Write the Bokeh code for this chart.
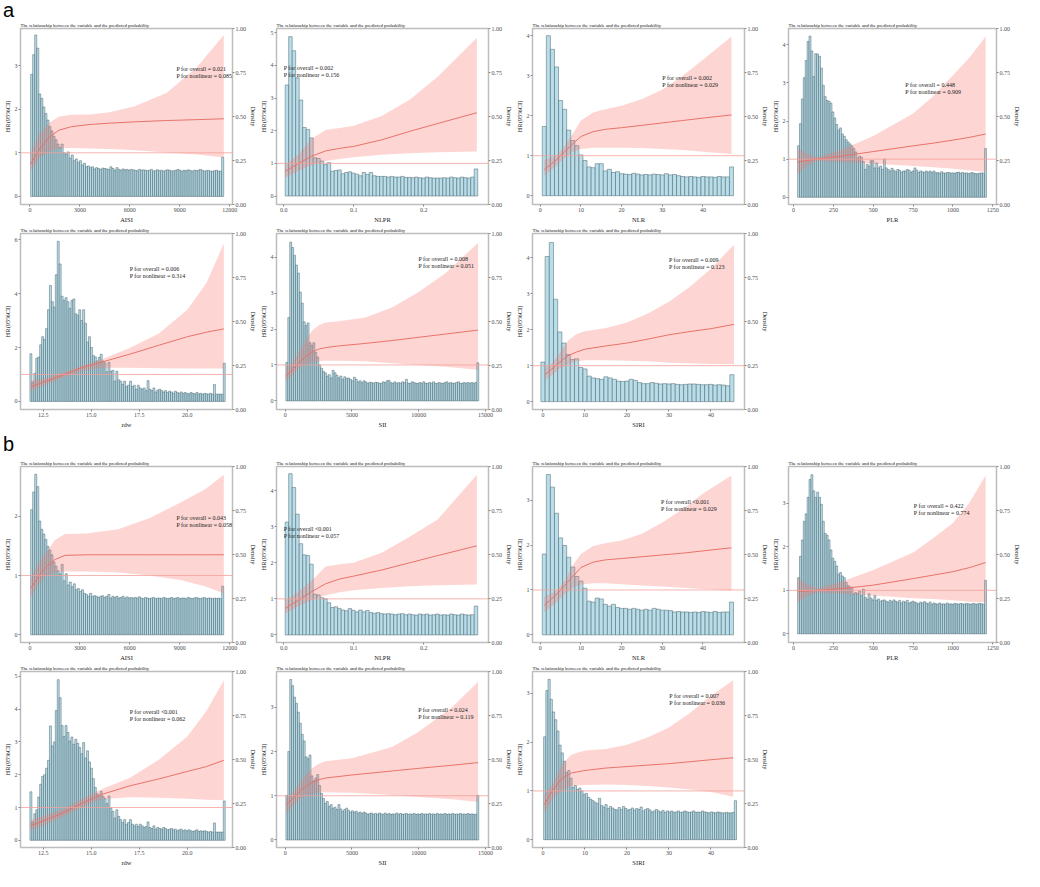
from bokeh.core.properties import value
from bokeh.embed import file_html
from bokeh.layouts import column, row
from bokeh.models import (Div, FixedTicker, LinearAxis, NumeralTickFormatter,
                          Range1d, Span)
from bokeh.plotting import figure
from bokeh.resources import INLINE

TITLE = "The relationship between the variable and the predicted probability"
SERIF = "Liberation Serif"

# bin extents of each variable (first bin left edge, last bin right edge)
aisi_bins = (40, 11640)
nlpr_bins = (0.0022, 0.2772)
nlr_bins = (0.5, 47.5)
plr_bins = (25, 1210)
rdw_bins = (11.81, 21.97)
sii_bins = (50, 14500)
siri_a_bins = (-0.5, 45.5)
siri_b_bins = (0.15, 46.1)

# ---------------- panel set a: histogram heights (read on HR axis) ----------------
aisi_a_bars = [2.8, 3.25, 3.7, 3.4, 2.35, 2.25, 2.05, 1.9, 1.75, 1.6,
               1.5, 1.38, 1.3, 1.2, 1.12, 1.2, 1.0, 0.97, 1.02, 0.88,
               0.95, 0.82, 0.86, 0.78, 0.82, 0.72, 0.76, 0.68, 0.7, 0.66,
               0.68, 0.63, 0.66, 0.64, 0.62, 0.65, 0.64, 0.63, 0.62, 0.68,
               0.64, 0.6, 0.66, 0.62, 0.6, 0.63, 0.61, 0.62, 0.6, 0.62,
               0.61, 0.6, 0.59, 0.62, 0.6, 0.61, 0.6, 0.59, 0.6, 0.62,
               0.58, 0.6, 0.61, 0.59, 0.6, 0.58, 0.6, 0.61, 0.6, 0.58,
               0.59, 0.6, 0.62, 0.6, 0.58, 0.6, 0.59, 0.61, 0.6, 0.58,
               0.6, 0.59, 0.6, 0.62, 0.6, 0.58, 0.59, 0.6, 0.58, 0.58,
               0.59, 0.6, 0.58, 0.58, 0.9]
nlpr_a_bars = [3.4, 4.88, 4.45, 3.62, 2.94, 2.1, 2.04, 1.78, 1.17, 1.15,
               1.07, 0.96, 1.02, 0.76, 0.78, 0.8, 0.68, 0.72, 0.74, 0.7,
               0.67, 0.62, 0.72, 0.66, 0.72, 0.62, 0.6, 0.6, 0.6, 0.58,
               0.6, 0.58, 0.58, 0.6, 0.57, 0.57, 0.56, 0.58, 0.56, 0.55,
               0.58, 0.56, 0.55, 0.55, 0.55, 0.56, 0.55, 0.58, 0.56, 0.55,
               0.58, 0.56, 0.55, 0.58, 0.83]
nlr_a_bars = [1.73, 4.0, 3.66, 3.22, 2.38, 2.16, 1.64, 1.38, 1.25, 1.02,
              0.88, 0.72, 0.7, 0.8, 0.8, 0.62, 0.66, 0.58, 0.6, 0.55,
              0.54, 0.53, 0.56, 0.54, 0.52, 0.53, 0.52, 0.54, 0.53, 0.52,
              0.55, 0.52, 0.53, 0.5, 0.48, 0.47, 0.48, 0.47, 0.46, 0.48,
              0.47, 0.47, 0.46, 0.48, 0.47, 0.47, 0.72]
plr_a_bars = [1.35, 1.93, 2.58, 3.14, 3.59, 4.09, 4.23, 3.84, 3.17, 3.77,
              3.76, 3.7, 3.39, 2.94, 2.64, 2.54, 2.52, 2.47, 2.24, 2.08,
              1.91, 1.76, 1.82, 1.66, 1.6, 1.51, 1.45, 1.4, 1.35, 1.28,
              1.19, 1.03, 1.08, 1.05, 0.94, 0.73, 0.86, 0.82, 0.96, 0.96,
              0.77, 0.9, 0.77, 0.82, 0.73, 1.0, 0.77, 0.73, 0.69, 0.76,
              0.71, 0.67, 0.73, 0.71, 0.66, 0.69, 0.69, 0.73, 0.71, 0.66,
              0.69, 0.77, 0.71, 0.65, 0.69, 0.67, 0.65, 0.69, 0.66, 0.69,
              0.65, 0.69, 0.64, 0.65, 0.63, 0.67, 0.64, 0.63, 0.65, 0.65,
              0.63, 0.64, 0.63, 0.65, 0.66, 0.63, 0.65, 0.63, 0.64, 0.62,
              0.63, 0.65, 0.63, 0.62, 0.62, 0.63, 0.64, 0.63, 1.28]
rdw_a_bars = [1.77, 0.71, 1.04, 1.6, 1.65, 2.1, 2.4, 2.3, 2.7, 3.4,
              4.3, 3.7, 3.5, 4.7, 5.94, 5.1, 3.9, 3.75, 3.85, 3.7,
              3.45, 3.75, 3.8, 3.25, 3.2, 3.4, 3.0, 3.4, 2.9, 2.2,
              2.4, 2.0, 1.7, 1.65, 1.5, 1.63, 1.75, 1.5, 1.43, 1.1,
              1.45, 1.12, 1.15, 0.75, 1.12, 0.8, 0.75, 0.63, 0.75, 0.55,
              0.6, 0.75, 0.55, 0.6, 0.45, 0.6, 0.5, 0.45, 0.5, 0.4,
              0.77, 0.45, 0.4, 0.5, 0.35, 0.42, 0.45, 0.4, 0.35, 0.4,
              0.33, 0.38, 0.35, 0.3, 0.38, 0.33, 0.3, 0.35, 0.3, 0.33,
              0.3, 0.28, 0.33, 0.3, 0.28, 0.33, 0.28, 0.3, 0.27, 0.3,
              0.28, 0.27, 0.3, 0.27, 0.63, 0.27, 0.27, 0.27, 0.27, 1.42]
sii_a_bars = [1.07, 2.32, 4.42, 4.27, 4.05, 3.78, 3.56, 3.03, 2.72, 2.2,
              2.1, 2.17, 1.62, 1.55, 1.62, 1.35, 1.22, 1.0, 0.91, 0.82,
              0.78, 0.69, 0.73, 0.64, 0.85, 0.78, 0.71, 0.64, 0.69, 0.6,
              0.67, 0.62, 0.64, 0.6, 0.56, 0.66, 0.6, 0.53, 0.56, 0.51,
              0.56, 0.53, 0.49, 0.52, 0.51, 0.49, 0.52, 0.51, 0.49, 0.49,
              0.53, 0.51, 0.56, 0.57, 0.51, 0.49, 0.53, 0.49, 0.51, 0.49,
              0.53, 0.51, 0.6, 0.49, 0.49, 0.53, 0.51, 0.49, 0.49, 0.51,
              0.49, 0.53, 0.49, 0.49, 0.51, 0.49, 0.53, 0.49, 0.49, 0.51,
              0.49, 0.49, 0.51, 0.53, 0.49, 0.51, 0.49, 0.49, 0.51, 0.53,
              0.49, 0.49, 0.51, 0.49, 0.51, 0.49, 0.51, 0.49, 0.51, 1.06]
siri_a_bars = [1.1, 4.04, 4.43, 2.85, 1.94, 1.63, 1.31, 1.17, 1.19, 0.95,
               0.91, 0.71, 0.66, 0.64, 0.62, 0.69, 0.66, 0.62, 0.57, 0.56,
               0.57, 0.62, 0.59, 0.53, 0.5, 0.5, 0.53, 0.51, 0.49, 0.5,
               0.49, 0.5, 0.48, 0.47, 0.48, 0.49, 0.49, 0.48, 0.47, 0.47,
               0.48, 0.46, 0.47, 0.46, 0.44, 0.75]

# ---------------- panel set b: histogram heights ----------------
aisi_b_bars = [2.11, 2.41, 2.71, 2.5, 1.92, 1.78, 1.7, 1.61, 1.49, 1.43,
               1.35, 1.23, 1.16, 1.08, 1.03, 1.19, 0.91, 1.03, 0.84, 0.89,
               0.81, 0.86, 0.76, 0.78, 0.73, 0.76, 0.7, 0.68, 0.65, 0.7,
               0.65, 0.66, 0.65, 0.63, 0.65, 0.66, 0.63, 0.65, 0.68, 0.62,
               0.65, 0.63, 0.65, 0.62, 0.63, 0.65, 0.62, 0.64, 0.62, 0.63,
               0.62, 0.63, 0.62, 0.64, 0.62, 0.61, 0.63, 0.62, 0.61, 0.62,
               0.63, 0.61, 0.62, 0.62, 0.61, 0.63, 0.62, 0.61, 0.62, 0.63,
               0.61, 0.62, 0.63, 0.61, 0.62, 0.62, 0.61, 0.63, 0.62, 0.61,
               0.62, 0.63, 0.62, 0.61, 0.62, 0.63, 0.61, 0.62, 0.62, 0.61,
               0.62, 0.61, 0.62, 0.61, 0.82]
nlpr_b_bars = [3.13, 4.47, 4.09, 3.35, 2.53, 2.22, 2.2, 1.96, 1.13, 1.11,
               1.03, 1.0, 0.89, 0.76, 0.78, 0.73, 0.69, 0.67, 0.73, 0.68,
               0.64, 0.69, 0.64, 0.68, 0.62, 0.6, 0.62, 0.59, 0.58, 0.59,
               0.58, 0.56, 0.58, 0.59, 0.56, 0.58, 0.56, 0.55, 0.58, 0.56,
               0.58, 0.55, 0.56, 0.58, 0.55, 0.56, 0.55, 0.58, 0.56, 0.55,
               0.58, 0.56, 0.55, 0.56, 0.8]
nlr_b_bars = [1.8, 3.57, 3.29, 2.71, 2.16, 1.99, 1.73, 1.51, 1.3, 1.2,
              1.04, 0.75, 0.73, 0.82, 0.8, 0.68, 0.64, 0.68, 0.61, 0.59,
              0.59, 0.57, 0.59, 0.57, 0.55, 0.57, 0.55, 0.59, 0.57, 0.55,
              0.55, 0.54, 0.51, 0.52, 0.51, 0.51, 0.5, 0.51, 0.5, 0.52,
              0.51, 0.5, 0.52, 0.5, 0.51, 0.51, 0.73]
plr_b_bars = [1.29, 1.78, 2.16, 2.59, 2.76, 3.14, 3.55, 3.66, 3.29, 3.14,
              3.26, 3.14, 2.98, 2.59, 2.31, 2.27, 2.16, 1.93, 1.74, 1.67,
              1.56, 1.37, 1.41, 1.33, 1.29, 1.18, 1.11, 1.08, 1.07, 0.92,
              0.95, 0.92, 0.98, 0.88, 1.03, 0.84, 0.8, 0.92, 0.82, 0.78,
              0.88, 0.77, 0.8, 0.75, 0.77, 0.78, 0.75, 0.73, 0.77, 0.74,
              0.78, 0.75, 0.73, 0.77, 0.71, 0.75, 0.73, 0.77, 0.71, 0.73,
              0.75, 0.73, 0.71, 0.69, 0.73, 0.71, 0.74, 0.71, 0.69, 0.73,
              0.68, 0.71, 0.69, 0.68, 0.71, 0.68, 0.69, 0.68, 0.71, 0.68,
              0.69, 0.68, 0.7, 0.69, 0.68, 0.7, 0.69, 0.68, 0.7, 0.69,
              0.68, 0.69, 0.7, 0.68, 0.69, 0.7, 0.69, 0.68, 1.23]
rdw_b_bars = [1.48, 0.56, 0.81, 0.93, 1.32, 1.71, 1.95, 2.0, 2.2, 2.44,
              3.49, 2.88, 3.0, 3.96, 4.9, 4.35, 3.5, 3.17, 3.5, 3.29,
              3.03, 3.15, 2.93, 3.08, 2.96, 2.83, 2.64, 2.98, 2.51, 2.73,
              2.39, 2.2, 1.88, 1.61, 1.42, 1.37, 1.49, 1.34, 1.27, 1.12,
              1.35, 0.98, 0.88, 0.68, 0.93, 0.73, 0.63, 0.54, 0.63, 0.49,
              0.54, 0.63, 0.49, 0.44, 0.49, 0.42, 0.49, 0.44, 0.39, 0.42,
              0.56, 0.39, 0.36, 0.44, 0.34, 0.39, 0.36, 0.34, 0.39, 0.36,
              0.32, 0.34, 0.36, 0.32, 0.34, 0.29, 0.32, 0.34, 0.29, 0.32,
              0.29, 0.32, 0.29, 0.27, 0.29, 0.32, 0.27, 0.29, 0.27, 0.29,
              0.27, 0.25, 0.27, 0.25, 0.53, 0.25, 0.25, 0.25, 0.25, 1.2]
sii_b_bars = [1.01, 2.0, 3.63, 3.49, 3.23, 3.09, 2.89, 2.64, 2.39, 2.24,
              1.88, 1.84, 1.92, 1.45, 1.34, 1.4, 1.48, 1.23, 1.05, 0.94,
              0.83, 0.87, 0.76, 0.8, 0.72, 0.74, 0.69, 0.8, 0.7, 0.65,
              0.69, 0.72, 0.67, 0.63, 0.66, 0.63, 0.65, 0.61, 0.63, 0.6,
              0.63, 0.61, 0.58, 0.6, 0.61, 0.58, 0.6, 0.58, 0.61, 0.59,
              0.58, 0.61, 0.58, 0.6, 0.58, 0.59, 0.58, 0.61, 0.58, 0.6,
              0.58, 0.59, 0.6, 0.58, 0.59, 0.58, 0.6, 0.58, 0.59, 0.58,
              0.6, 0.58, 0.59, 0.58, 0.6, 0.58, 0.59, 0.58, 0.6, 0.58,
              0.59, 0.58, 0.6, 0.58, 0.59, 0.58, 0.6, 0.58, 0.59, 0.58,
              0.6, 0.58, 0.59, 0.58, 0.6, 0.58, 0.59, 0.58, 0.58, 1.01]
siri_b_bars = [2.11, 3.06, 3.29, 2.88, 2.62, 2.46, 2.23, 1.94, 1.78, 1.61,
               1.38, 1.42, 1.26, 1.07, 1.11, 1.03, 1.06, 1.0, 0.93, 0.95,
               0.87, 0.83, 0.8, 0.77, 0.74, 0.85, 0.7, 0.67, 0.72, 0.64,
               0.68, 0.65, 0.62, 0.61, 0.66, 0.62, 0.68, 0.64, 0.61, 0.62,
               0.65, 0.61, 0.64, 0.62, 0.67, 0.59, 0.62, 0.64, 0.61, 0.57,
               0.59, 0.62, 0.59, 0.57, 0.6, 0.56, 0.59, 0.57, 0.59, 0.56,
               0.57, 0.59, 0.56, 0.57, 0.59, 0.57, 0.56, 0.57, 0.59, 0.56,
               0.57, 0.56, 0.59, 0.57, 0.56, 0.55, 0.57, 0.56, 0.55, 0.57,
               0.56, 0.55, 0.55, 0.56, 0.55, 0.55, 0.56, 0.8]

# ---------------- spline HR curves with 95% CI (x, HR, lower, upper) ----------------
aisi_a_x = [40, 600, 1200, 1750, 2500, 3600, 4800, 6300, 8200, 10000, 11650]
aisi_a_hr = [0.74, 1.1, 1.37, 1.52, 1.6, 1.65, 1.68, 1.71, 1.74, 1.76, 1.78]
aisi_a_lo = [0.59, 0.9, 1.04, 1.1, 1.11, 1.1, 1.09, 1.06, 1.01, 0.96, 0.89]
aisi_a_hi = [1.0, 1.44, 1.7, 1.83, 1.87, 1.88, 1.93, 2.07, 2.37, 2.95, 3.7]

nlpr_a_x = [0.002, 0.02, 0.04, 0.06, 0.08, 0.1, 0.14, 0.18, 0.22, 0.276]
nlpr_a_hr = [0.75, 0.98, 1.22, 1.38, 1.46, 1.52, 1.72, 1.98, 2.22, 2.55]
nlpr_a_lo = [0.55, 0.76, 0.95, 1.07, 1.13, 1.19, 1.26, 1.31, 1.34, 1.36]
nlpr_a_hi = [0.95, 1.25, 1.75, 2.02, 2.08, 2.15, 2.45, 2.95, 3.65, 4.85]

nlr_a_x = [1, 4, 6, 8, 10, 13, 16, 20, 25, 30, 35, 40, 47]
nlr_a_hr = [0.65, 0.9, 1.1, 1.3, 1.48, 1.6, 1.66, 1.7, 1.76, 1.82, 1.88, 1.94, 2.02]
nlr_a_lo = [0.5, 0.75, 0.95, 1.1, 1.17, 1.2, 1.2, 1.2, 1.19, 1.17, 1.14, 1.1, 1.04]
nlr_a_hi = [0.9, 1.0, 1.25, 1.55, 1.88, 2.08, 2.16, 2.25, 2.42, 2.65, 3.0, 3.4, 3.98]

plr_a_x = [25, 75, 150, 300, 500, 750, 875, 1000, 1100, 1205]
plr_a_hr = [0.92, 0.96, 1.0, 1.08, 1.2, 1.35, 1.42, 1.5, 1.57, 1.66]
plr_a_lo = [0.6, 0.8, 0.95, 0.92, 0.88, 0.82, 0.79, 0.75, 0.71, 0.66]
plr_a_hi = [1.3, 1.15, 1.05, 1.25, 1.61, 2.2, 2.65, 3.2, 3.65, 4.22]

rdw_a_x = [11.85, 12.5, 13.5, 14.5, 15.5, 17, 18.5, 20, 21, 21.9]
rdw_a_hr = [0.54, 0.71, 0.97, 1.25, 1.45, 1.75, 2.08, 2.4, 2.57, 2.69]
rdw_a_lo = [0.38, 0.58, 0.88, 1.12, 1.25, 1.25, 1.23, 1.22, 1.22, 1.22]
rdw_a_hi = [0.78, 0.85, 1.05, 1.32, 1.55, 1.98, 2.51, 3.4, 4.4, 5.86]

sii_a_x = [50, 500, 1000, 1500, 2000, 2500, 3000, 4000, 6000, 8000, 10000, 12000, 14450]
sii_a_hr = [0.7, 0.85, 1.05, 1.22, 1.36, 1.44, 1.48, 1.53, 1.6, 1.68, 1.77, 1.86, 1.97]
sii_a_lo = [0.55, 0.7, 0.9, 1.02, 1.08, 1.1, 1.12, 1.12, 1.1, 1.05, 1.0, 0.95, 0.87]
sii_a_hi = [0.95, 1.05, 1.35, 1.65, 1.95, 2.1, 2.18, 2.22, 2.32, 2.6, 3.03, 3.55, 4.4]

siri_a_x = [0.5, 2, 4, 6, 8, 10, 15, 20, 25, 30, 35, 40, 45.5]
siri_a_hr = [0.75, 0.9, 1.1, 1.28, 1.38, 1.46, 1.55, 1.63, 1.74, 1.86, 1.95, 2.03, 2.15]
siri_a_lo = [0.6, 0.72, 0.92, 1.05, 1.12, 1.15, 1.15, 1.14, 1.12, 1.08, 1.07, 1.05, 1.04]
siri_a_hi = [0.95, 1.05, 1.35, 1.7, 1.88, 1.96, 2.05, 2.2, 2.45, 2.78, 3.2, 3.7, 4.37]

aisi_b_x = [40, 500, 1000, 1500, 2100, 3400, 5300, 7200, 9100, 10500, 11650]
aisi_b_hr = [0.78, 0.98, 1.15, 1.27, 1.34, 1.35, 1.35, 1.35, 1.35, 1.35, 1.35]
aisi_b_lo = [0.62, 0.85, 1.0, 1.05, 1.07, 1.07, 1.05, 1.0, 0.92, 0.82, 0.7]
aisi_b_hi = [0.95, 1.2, 1.4, 1.6, 1.7, 1.71, 1.78, 1.97, 2.24, 2.45, 2.7]

nlpr_b_x = [0.002, 0.02, 0.04, 0.06, 0.08, 0.1, 0.14, 0.18, 0.22, 0.276]
nlpr_b_hr = [0.73, 0.95, 1.2, 1.42, 1.55, 1.63, 1.8, 2.0, 2.2, 2.47]
nlpr_b_lo = [0.58, 0.78, 0.97, 1.1, 1.18, 1.24, 1.3, 1.35, 1.38, 1.4]
nlpr_b_hi = [0.95, 1.18, 1.5, 1.9, 1.96, 2.0, 2.28, 2.72, 3.2, 4.44]

nlr_b_x = [1, 4, 6, 8, 10, 13, 16, 20, 25, 30, 35, 40, 47]
nlr_b_hr = [0.66, 0.9, 1.1, 1.3, 1.5, 1.62, 1.67, 1.7, 1.74, 1.78, 1.82, 1.87, 1.94]
nlr_b_lo = [0.5, 0.72, 0.9, 1.05, 1.12, 1.15, 1.15, 1.13, 1.1, 1.08, 1.05, 1.02, 0.98]
nlr_b_hi = [0.85, 0.98, 1.2, 1.55, 1.8, 1.98, 2.04, 2.1, 2.25, 2.5, 2.8, 3.15, 3.55]

plr_b_x = [25, 75, 150, 300, 500, 750, 875, 1000, 1100, 1205]
plr_b_hr = [0.98, 0.98, 1.0, 1.04, 1.12, 1.27, 1.35, 1.43, 1.52, 1.64]
plr_b_lo = [0.72, 0.85, 0.95, 0.93, 0.88, 0.82, 0.8, 0.77, 0.74, 0.72]
plr_b_hi = [1.3, 1.15, 1.05, 1.2, 1.47, 1.87, 2.2, 2.55, 3.0, 3.65]

rdw_b_x = [11.85, 12.5, 13.5, 14.5, 15.5, 17, 18.5, 20, 21, 21.9]
rdw_b_hr = [0.45, 0.59, 0.83, 1.12, 1.39, 1.66, 1.87, 2.1, 2.25, 2.44]
rdw_b_lo = [0.3, 0.45, 0.72, 1.0, 1.25, 1.31, 1.3, 1.27, 1.24, 1.22]
rdw_b_hi = [0.62, 0.75, 0.95, 1.25, 1.55, 1.9, 2.45, 3.17, 3.95, 4.88]

sii_b_x = [70, 500, 1000, 1500, 2000, 2500, 3000, 5000, 8000, 10000, 12500, 14450]
sii_b_hr = [0.8, 0.92, 1.08, 1.2, 1.3, 1.36, 1.4, 1.47, 1.56, 1.62, 1.69, 1.75]
sii_b_lo = [0.6, 0.75, 0.9, 1.0, 1.05, 1.07, 1.08, 1.07, 1.02, 0.97, 0.92, 0.86]
sii_b_hi = [0.95, 1.05, 1.25, 1.45, 1.62, 1.72, 1.78, 1.85, 2.1, 2.45, 3.0, 3.58]

siri_b_x = [0.3, 2.4, 4.6, 6.8, 10, 15, 20, 25, 30, 35, 40, 45.3]
siri_b_hr = [0.72, 1.03, 1.26, 1.37, 1.42, 1.47, 1.5, 1.53, 1.56, 1.6, 1.64, 1.68]
siri_b_lo = [0.55, 0.85, 1.02, 1.1, 1.12, 1.13, 1.12, 1.1, 1.07, 1.03, 0.98, 0.88]
siri_b_hi = [0.92, 1.15, 1.55, 1.75, 1.83, 1.86, 1.95, 2.1, 2.3, 2.6, 2.95, 3.27]

# P values printed in each panel (overall, nonlinear)
p_a = {"AISI": ("= 0.021", "= 0.085"), "NLPR": ("= 0.002", "= 0.156"),
       "NLR": ("= 0.002", "= 0.029"), "PLR": ("= 0.448", "= 0.909"),
       "rdw": ("= 0.006", "= 0.314"), "SII": ("= 0.008", "= 0.051"),
       "SIRI": ("= 0.009", "= 0.123")}
p_b = {"AISI": ("= 0.043", "= 0.058"), "NLPR": ("<0.001", "= 0.057"),
       "NLR": ("<0.001", "= 0.029"), "PLR": ("= 0.422", "= 0.774"),
       "rdw": ("<0.001", "= 0.062"), "SII": ("= 0.024", "= 0.119"),
       "SIRI": ("= 0.007", "= 0.036")}

x_ticks = {"AISI": [0, 3000, 6000, 9000, 12000], "NLPR": [0, 0.1, 0.2],
           "NLR": [0, 10, 20, 30, 40], "PLR": [0, 250, 500, 750, 1000, 1250],
           "rdw": [12.5, 15, 17.5, 20], "SII": [0, 5000, 10000, 15000],
           "SIRI": [0, 10, 20, 30, 40]}
x_fmt = {"NLPR": "0.0", "rdw": "0.0"}
x_view = {"AISI": (-570, 12170), "NLPR": (-0.0102, 0.2926), "NLR": (-1.9, 50.2),
          "PLR": (-32, 1273), "rdw": (11.32, 22.35), "SII": (-654, 15230),
          "SIRI": (-2.5, 48.0)}


def style_axis(ax):
    ax.axis_line_color = None
    ax.major_tick_line_color = "#8a8a8a"
    ax.major_tick_out = 2
    ax.major_tick_in = 0
    ax.minor_tick_line_color = None
    ax.major_label_text_font = SERIF
    ax.major_label_text_font_size = "6px"
    ax.major_label_text_color = "#4d4d4d"
    ax.major_label_standoff = 1
    ax.axis_label_text_font = SERIF
    ax.axis_label_text_font_size = "6.5px"
    ax.axis_label_text_font_style = "normal"
    ax.axis_label_text_color = "#1a1a1a"
    ax.axis_label_standoff = 1


def panel(var, bars, bins, cx, hr, lo, hi, pv, note_at, hr_view, hr_ticks, last=False):
    # a small negative right margin lets the spare edge room sit under the next panel
    p = figure(width=256 if last else 260, height=205, title=TITLE,
               output_backend="svg", toolbar_location=None,
               x_range=Range1d(*x_view[var]), y_range=Range1d(*hr_view),
               min_border_left=0, min_border_right=0, min_border_top=0,
               min_border_bottom=0, margin=(0, 0 if last else -4, 0, 0))
    p.border_fill_alpha = 0
    p.grid.visible = False
    p.outline_line_color = "#bdbdbd"
    p.outline_line_width = 1.5
    p.title.text_font = SERIF
    p.title.text_font_size = "4.8px"
    p.title.text_font_style = "normal"
    p.title.text_color = "#111111"
    p.title.standoff = 1

    w = (bins[1] - bins[0]) / len(bars)
    lefts = [bins[0] + i * w for i in range(len(bars))]
    p.quad(left=lefts, right=[l + w for l in lefts], bottom=0, top=bars,
           fill_color="#ADD8E6", fill_alpha=0.85, line_color="#4a656c", line_width=0.5)
    p.varea(x=cx, y1=lo, y2=hi, fill_color="#F8766D", fill_alpha=0.3)
    p.line(cx, hr, line_color="#E8736A", line_width=1)
    p.add_layout(Span(location=1, dimension="width", line_color="#F4A09A",
                      line_width=0.8))
    p.text(x=[note_at[0]] * 2, y=[note_at[1]] * 2, y_offset=[0, 7],
           text=["P for overall " + pv[0], "P for nonlinear " + pv[1]],
           text_font=value(SERIF), text_font_size="6px", text_color="#1a1a1a",
           text_align="left", text_baseline="middle")

    xa = p.xaxis[0]
    xa.ticker = FixedTicker(ticks=x_ticks[var])
    xa.formatter = NumeralTickFormatter(format=x_fmt.get(var, "0"))
    xa.axis_label = var
    ya = p.yaxis[0]
    ya.ticker = FixedTicker(ticks=hr_ticks)
    ya.formatter = NumeralTickFormatter(format="0")
    ya.axis_label = "HR(95%CI)"
    p.extra_y_ranges = {"dens": Range1d(0, 1)}
    ra = LinearAxis(y_range_name="dens", axis_label="Density",
                    ticker=FixedTicker(ticks=[0, 0.25, 0.5, 0.75, 1]),
                    formatter=NumeralTickFormatter(format="0.00"))
    p.add_layout(ra, "right")
    for ax in (xa, ya, ra):
        style_axis(ax)
    return p


a_row1 = [
    panel("AISI", aisi_a_bars, aisi_bins, aisi_a_x, aisi_a_hr, aisi_a_lo, aisi_a_hi,
          p_a["AISI"], (8800, 2.93), (-0.185, 3.85), [0, 1, 2, 3]),
    panel("NLPR", nlpr_a_bars, nlpr_bins, nlpr_a_x, nlpr_a_hr, nlpr_a_lo, nlpr_a_hi,
          p_a["NLPR"], (0.0, 3.91), (-0.26, 5.13), [0, 1, 2, 3, 4, 5]),
    panel("NLR", nlr_a_bars, nlr_bins, nlr_a_x, nlr_a_hr, nlr_a_lo, nlr_a_hi,
          p_a["NLR"], (30, 2.94), (-0.22, 4.18), [0, 1, 2, 3, 4]),
    panel("PLR", plr_a_bars, plr_bins, plr_a_x, plr_a_hr, plr_a_lo, plr_a_hi,
          p_a["PLR"], (701, 2.94), (-0.19, 4.43), [0, 1, 2, 3, 4], last=True),
]
a_row2 = [
    panel("rdw", rdw_a_bars, rdw_bins, rdw_a_x, rdw_a_hr, rdw_a_lo, rdw_a_hi,
          p_a["rdw"], (17.0, 4.93), (-0.3, 6.23), [0, 2, 4, 6]),
    panel("SII", sii_a_bars, sii_bins, sii_a_x, sii_a_hr, sii_a_lo, sii_a_hi,
          p_a["SII"], (9977, 3.96), (-0.24, 4.66), [0, 1, 2, 3, 4]),
    panel("SIRI", siri_a_bars, siri_a_bins, siri_a_x, siri_a_hr, siri_a_lo, siri_a_hi,
          p_a["SIRI"], (30, 3.93), (-0.22, 4.68), [0, 1, 2, 3, 4]),
]
b_row1 = [
    panel("AISI", aisi_b_bars, aisi_bins, aisi_b_x, aisi_b_hr, aisi_b_lo, aisi_b_hi,
          p_b["AISI"], (8800, 1.97), (-0.13, 2.84), [0, 1, 2]),
    panel("NLPR", nlpr_b_bars, nlpr_bins, nlpr_b_x, nlpr_b_hr, nlpr_b_lo, nlpr_b_hi,
          p_b["NLPR"], (0.0, 2.93), (-0.21, 4.67), [0, 1, 2, 3, 4]),
    panel("NLR", nlr_b_bars, nlr_bins, nlr_b_x, nlr_b_hr, nlr_b_lo, nlr_b_hi,
          p_b["NLR"], (29.7, 2.96), (-0.17, 3.75), [0, 1, 2, 3]),
    panel("PLR", plr_b_bars, plr_bins, plr_b_x, plr_b_hr, plr_b_lo, plr_b_hi,
          p_b["PLR"], (754, 2.93), (-0.2, 3.85), [0, 1, 2, 3], last=True),
]
b_row2 = [
    panel("rdw", rdw_b_bars, rdw_bins, rdw_b_x, rdw_b_hr, rdw_b_lo, rdw_b_hi,
          p_b["rdw"], (17.0, 3.9), (-0.22, 5.15), [0, 1, 2, 3, 4, 5]),
    panel("SII", sii_b_bars, sii_bins, sii_b_x, sii_b_hr, sii_b_lo, sii_b_hi,
          p_b["SII"], (9960, 2.94), (-0.17, 3.81), [0, 1, 2, 3]),
    panel("SIRI", siri_b_bars, siri_b_bins, siri_b_x, siri_b_hr, siri_b_lo, siri_b_hi,
          p_b["SIRI"], (30.1, 2.95), (-0.16, 3.45), [0, 1, 2, 3]),
]


def letter(txt, h):
    return Div(text=txt, width=200, height=h, margin=(0, 0, 0, 3),
               styles={"font-family": "Liberation Sans, sans-serif",
                       "font-size": "20px", "line-height": f"{h}px"})


p = column(letter("a", 20), row(*a_row1), row(*a_row2),
           letter("b", 28), row(*b_row1), row(*b_row2))

open("out.html", "w").write(file_html(p, INLINE))
